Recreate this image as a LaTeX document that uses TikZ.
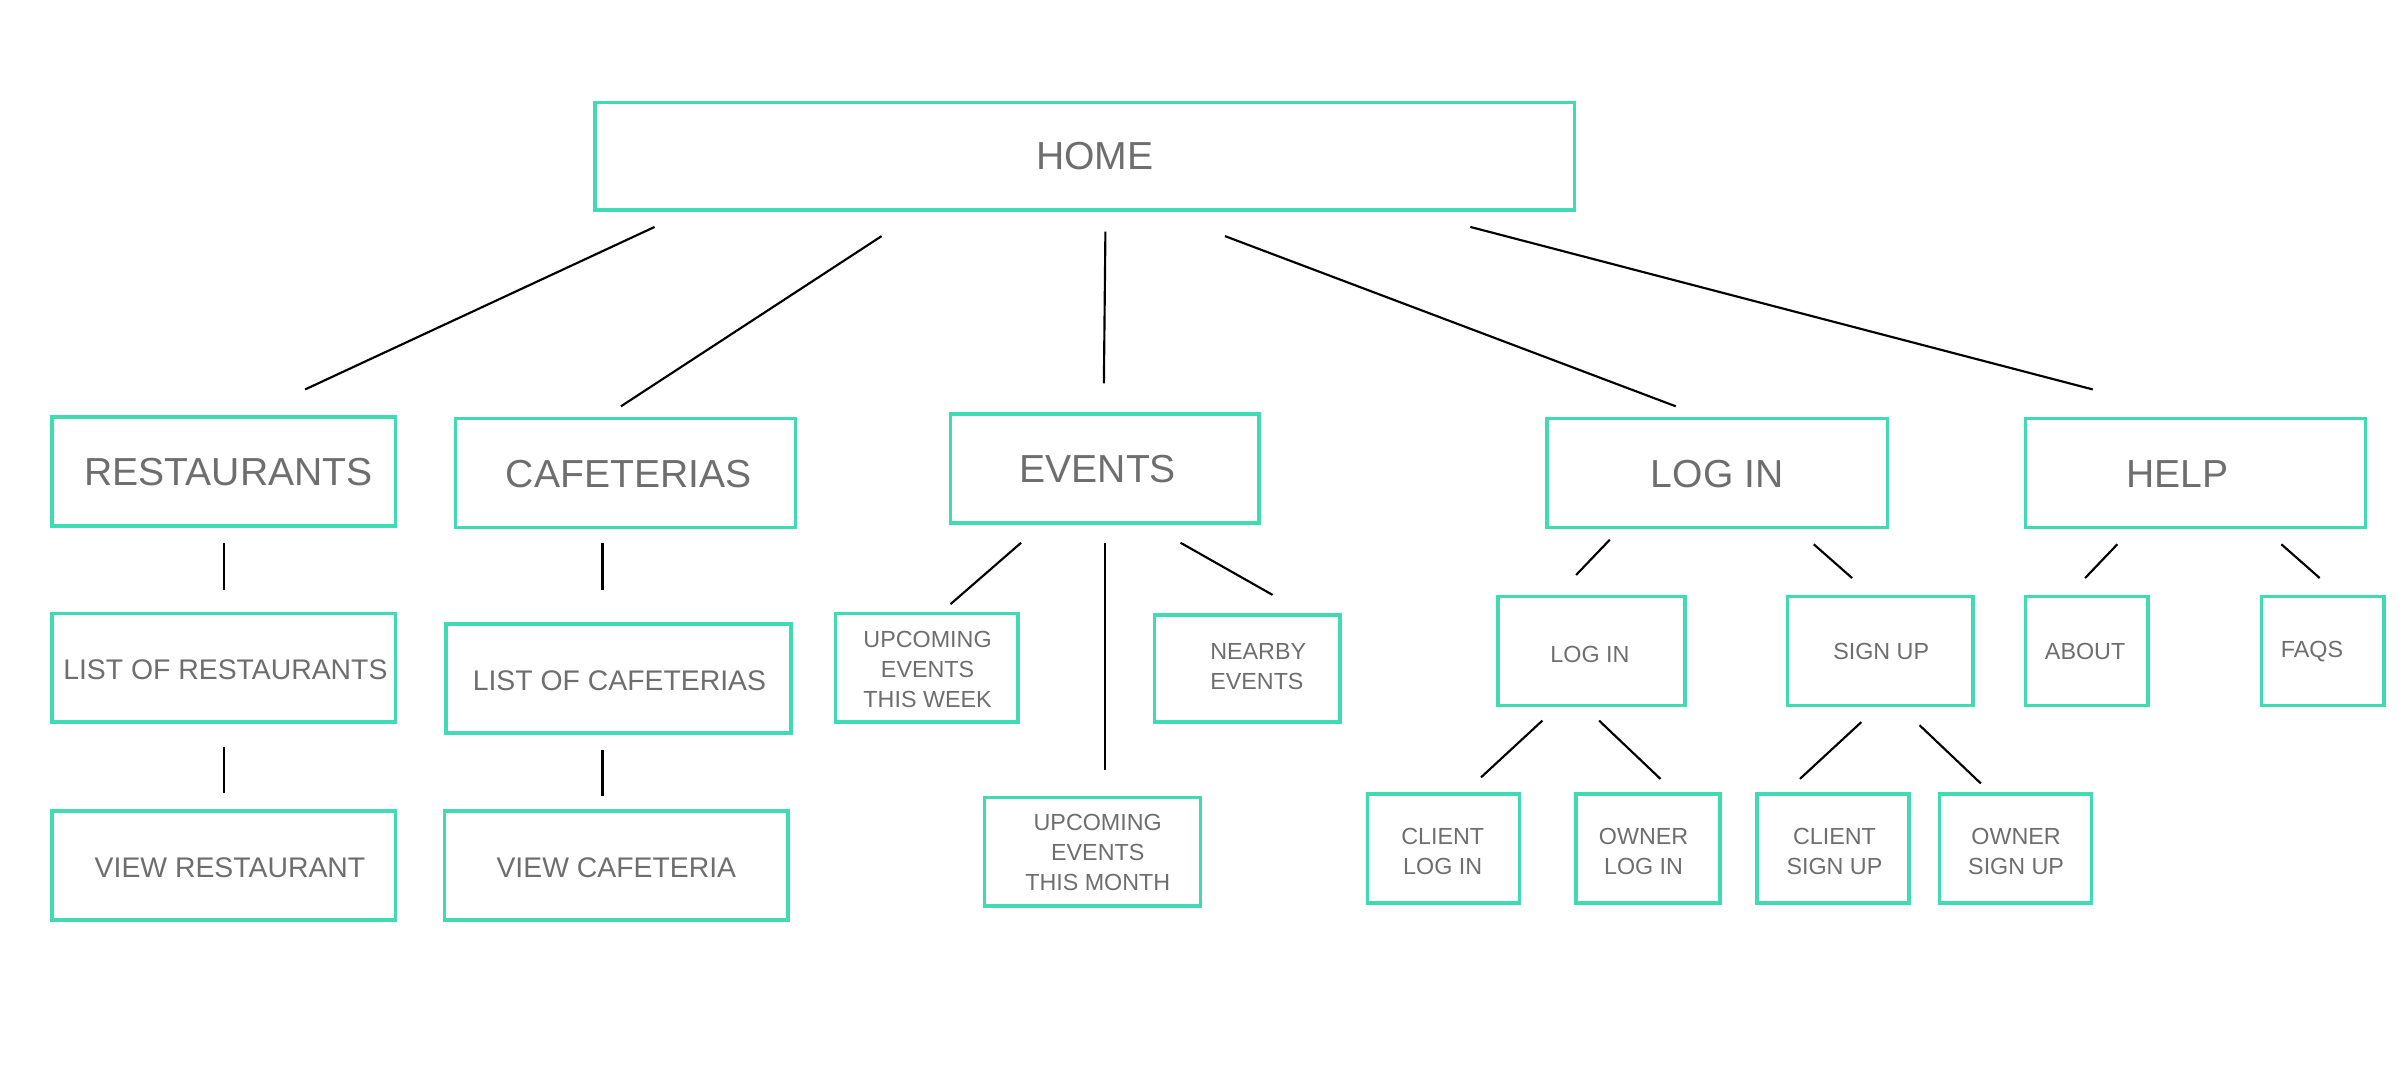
\documentclass[tikz,border=0pt]{standalone}
\usepackage{fontspec}
\setmainfont{Liberation Sans}
\usetikzlibrary{fit}
\definecolor{boxc}{HTML}{41DBB3}
\definecolor{txtc}{HTML}{6E6E6E}
\tikzset{
  boxst/.style={draw=boxc, line width=1.15pt, inner sep=0pt, fill=none},
  conn/.style={draw=black, line width=0.7pt},
  lg/.style={text=txtc, font=\fontsize{12.75}{15}\selectfont, inner sep=0pt},
  md/.style={text=txtc, font=\fontsize{9.25}{11}\selectfont, inner sep=0pt},
  sm/.style={text=txtc, font=\fontsize{7.6}{9.75}\selectfont, inner sep=0pt, align=center},
}
\begin{document}
\begin{tikzpicture}[x=0.5pt, y=-0.5pt]
\useasboundingbox[fill=white] (0,0) rectangle (1568,709);

% boxes
\node[boxst, fit={(388,67)(1027,137)}] (home) {};
\node[boxst, fit={(34,272)(258,343)}] (rest) {};
\node[boxst, fit={(297,273)(519,344)}] (caf) {};
\node[boxst, fit={(620,270)(821,341)}] (ev) {};
\node[boxst, fit={(1009,273)(1231,344)}] (login) {};
\node[boxst, fit={(1321,273)(1543,344)}] (help) {};
\node[boxst, fit={(34,400)(258,471)}] (listr) {};
\node[boxst, fit={(291,407)(516,478)}] (listc) {};
\node[boxst, fit={(34,529)(258,600)}] (viewr) {};
\node[boxst, fit={(290,529)(514,600)}] (viewc) {};
\node[boxst, fit={(545,400)(664,471)}] (week) {};
\node[boxst, fit={(753,401)(874,471)}] (near) {};
\node[boxst, fit={(642,520)(783,591)}] (month) {};
\node[boxst, fit={(977,389)(1099,460)}] (login2) {};
\node[boxst, fit={(1166,389)(1287,460)}] (signup) {};
\node[boxst, fit={(1321,389)(1401,460)}] (about) {};
\node[boxst, fit={(1475,389)(1555,460)}] (faqs) {};
\node[boxst, fit={(892,518)(991,589)}] (clog) {};
\node[boxst, fit={(1028,518)(1122,589)}] (olog) {};
\node[boxst, fit={(1146,518)(1245,589)}] (csign) {};
\node[boxst, fit={(1265,518)(1364,589)}] (osign) {};

% texts
\node[lg] (homet) at (714,102) {HOME};
\node[lg] (restt) at (149,308) {RESTAURANTS};
\node[lg] (caft) at (410,309) {CAFETERIAS};
\node[lg] (evt) at (716,306) {EVENTS};
\node[lg] (logint) at (1120,309) {LOG IN};
\node[lg] (helpt) at (1420,309) {HELP};
\node[md] (listrt) at (147,437) {LIST OF RESTAURANTS};
\node[md] (listct) at (404,444) {LIST OF CAFETERIAS};
\node[md] (viewrt) at (150,566) {VIEW RESTAURANT};
\node[md] (viewct) at (402,566) {VIEW CAFETERIA};
\node[sm] (weekt) at (605,436.5) {UPCOMING\\EVENTS\\THIS WEEK};
\node[sm, align=left, anchor=west] (neart) at (789,434.5) {NEARBY\\EVENTS};
\node[sm] (montht) at (716,556) {UPCOMING\\EVENTS\\THIS MONTH};
\node[sm] (login2t) at (1037,427) {LOG IN};
\node[sm] (signupt) at (1227,425) {SIGN UP};
\node[sm] (aboutt) at (1360,425) {ABOUT};
\node[sm] (faqst) at (1508,425) {FAQS};
\node[sm] (clogt) at (941,555.5) {CLIENT\\LOG IN};
\node[sm] (ologt) at (1072,555.5) {OWNER\\LOG IN};
\node[sm] (csignt) at (1196.5,555.5) {CLIENT\\SIGN UP};
\node[sm] (osignt) at (1315,555.5) {OWNER\\SIGN UP};

% connector end points
\coordinate (a1) at (427,148);  \coordinate (b1) at (199,254);
\coordinate (a2) at (575,154);  \coordinate (b2) at (405,265);
\coordinate (a3) at (721,151);  \coordinate (b3) at (720,250);
\coordinate (a4) at (799,154);  \coordinate (b4) at (1093,265);
\coordinate (a5) at (959,148);  \coordinate (b5) at (1365,254);
\coordinate (a6) at (146,354);  \coordinate (b6) at (146,385);
\coordinate (a7) at (146,487);  \coordinate (b7) at (146,517);
\coordinate (a8) at (393,354);  \coordinate (b8) at (393,385);
\coordinate (a9) at (393,489);  \coordinate (b9) at (393,519);
\coordinate (a10) at (666,354); \coordinate (b10) at (620,394);
\coordinate (a11) at (721,354); \coordinate (b11) at (721,502);
\coordinate (a12) at (770,354); \coordinate (b12) at (830,388);
\coordinate (a13) at (1050,352); \coordinate (b13) at (1028,375);
\coordinate (a14) at (1183,355); \coordinate (b14) at (1208,377);
\coordinate (a15) at (1381,355); \coordinate (b15) at (1360,377);
\coordinate (a16) at (1488,355); \coordinate (b16) at (1513,377);
\coordinate (a17) at (1006,470); \coordinate (b17) at (966,507);
\coordinate (a18) at (1043,470); \coordinate (b18) at (1083,508);
\coordinate (a19) at (1214,471); \coordinate (b19) at (1174,508);
\coordinate (a20) at (1252,473); \coordinate (b20) at (1292,511);

\foreach \i in {1,...,20} { \draw[conn] (a\i) -- (b\i); }
\end{tikzpicture}
\end{document}
